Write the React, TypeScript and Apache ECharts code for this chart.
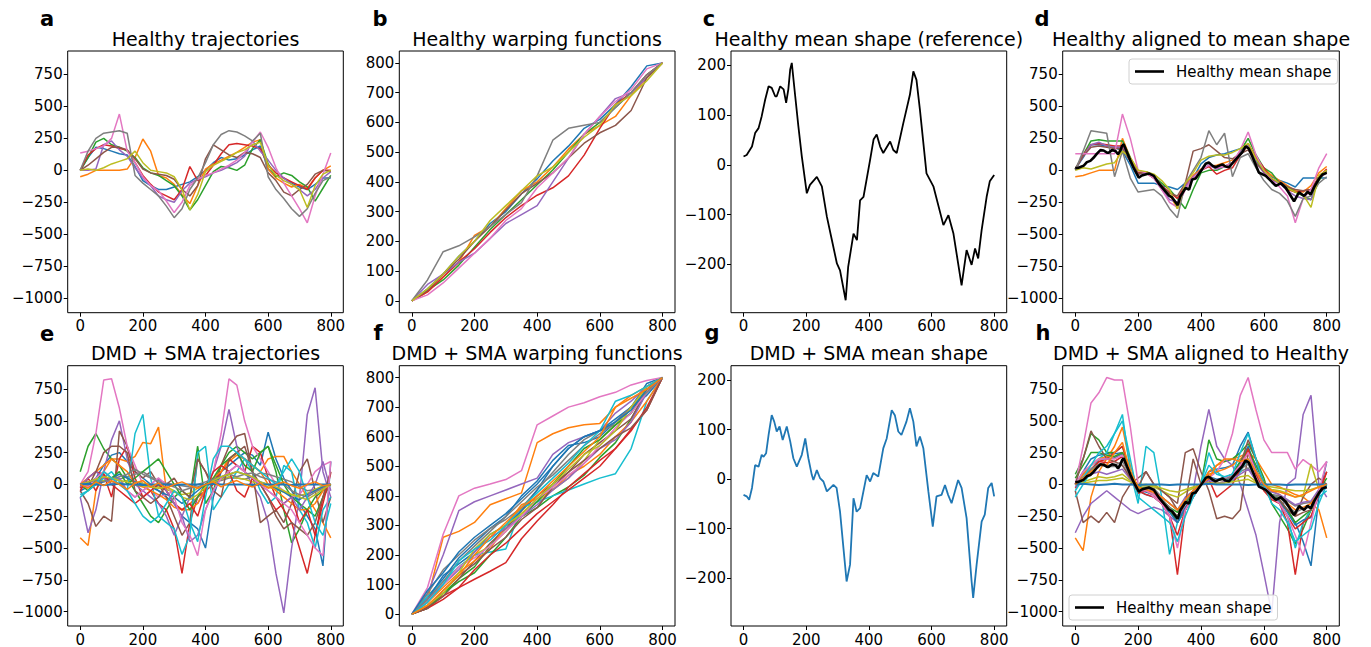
import React, { useEffect, useRef } from 'react';
import * as echarts from 'echarts';

const FONT = 'DejaVu Sans';
const TAB10 = ['#1f77b4', '#ff7f0e', '#2ca02c', '#d62728', '#9467bd', '#8c564b', '#e377c2', '#7f7f7f', '#bcbd22', '#17becf'];

// shared sample positions
const XS = [0, 25, 50, 75, 100, 125, 150, 175, 200, 225, 250, 275, 300, 325, 350, 375, 400, 425, 450, 475, 500, 525, 550, 575, 600, 625, 650, 675, 700, 725, 750, 775, 800];
const WX = [0, 50, 100, 150, 200, 250, 300, 350, 400, 450, 500, 550, 600, 650, 700, 750, 800];

// tick labels
const X_TICKS = [0, 200, 400, 600, 800];
const TRAJ_TICKS = [-1000, -750, -500, -250, 0, 250, 500, 750];
const WARP_TICKS = [0, 100, 200, 300, 400, 500, 600, 700, 800];
const MEAN_TICKS = [-200, -100, 0, 100, 200];

// titles
const TITLES = [
  'Healthy trajectories', 'Healthy warping functions', 'Healthy mean shape (reference)', 'Healthy aligned to mean shape',
  'DMD + SMA trajectories', 'DMD + SMA warping functions', 'DMD + SMA mean shape', 'DMD + SMA aligned to Healthy',
];
const LETTERS = ['a', 'b', 'c', 'd', 'e', 'f', 'g', 'h'];
const LEGEND_NAME = 'Healthy mean shape';

// (a) healthy trajectories
const HEALTHY_TRAJ = [
  [0, 100, 180, 170, 150, 130, 120, 30, -80, -120, -150, -150, -130, -110, -90, -50, 0, 60, 100, 80, 90, 120, 160, 190, 10, -40, -60, -100, -130, -150, -110, -60, -60],
  [-50, -30, 0, 0, 0, 0, 10, 100, 245, 150, -40, -60, -110, -190, -260, -120, 10, 50, 80, 110, 140, 180, 220, 240, 10, -60, -100, -130, -110, -140, -60, 0, 35],
  [0, 100, 220, 250, 200, 180, 150, 100, 20, -20, -40, -80, -120, -200, -310, -230, -120, -10, 30, 20, 0, 40, 170, 240, 50, -50, -20, -40, -90, -130, -240, -140, -40],
  [0, 120, 170, 200, 190, 170, 160, 60, -40, -110, -170, -200, -230, -150, 30, -80, -40, 40, 130, 200, 210, 200, 190, 170, 40, -20, -60, -90, -120, -150, -60, 0, 0],
  [0, 0, 10, 200, 230, 160, 110, 20, -60, -120, -200, -230, -250, -160, -100, -70, -50, -20, 0, 30, 60, 110, 230, 150, 80, 0, -60, -110, -150, -200, -150, -60, -10],
  [0, 40, 90, 140, 180, 180, 160, 90, 10, -20, -30, -40, -70, -150, -200, -120, 90, 200, 160, 120, 100, 140, 130, 100, -20, -80, -170, -200, -150, -110, -30, 0, -10],
  [135, 150, 170, 190, 250, 440, 150, 60, -50, -120, -160, -240, -330, -250, -120, -70, -40, -20, 10, 40, 80, 140, 220, 300, 180, 20, -100, -200, -300, -410, -200, -30, 135],
  [0, 150, 250, 290, 300, 310, 290, -40, -100, -150, -200, -280, -370, -300, -150, -60, 60, 200, 280, 310, 300, 270, 230, 290, -50, -150, -220, -300, -360, -300, -180, -80, -50],
  [0, 10, 0, 20, 50, 70, 90, 150, 60, 0, -10, -20, -50, -150, -310, -190, -10, 40, 70, 100, 140, 160, 200, 220, 40, -40, -80, -110, -150, -290, -120, -30, 0],
];

// (b) healthy warping functions
const HEALTHY_WARP = [
  [0, 40, 90, 150, 200, 260, 300, 360, 410, 470, 520, 580, 610, 660, 720, 790, 800],
  [0, 30, 80, 130, 220, 250, 310, 370, 400, 450, 510, 560, 590, 620, 690, 750, 800],
  [0, 35, 70, 120, 180, 240, 290, 340, 390, 440, 500, 560, 600, 650, 700, 760, 800],
  [0, 30, 80, 130, 175, 230, 280, 320, 355, 380, 420, 490, 580, 660, 700, 760, 800],
  [0, 55, 90, 130, 160, 210, 260, 290, 320, 400, 480, 560, 620, 680, 700, 750, 800],
  [0, 35, 90, 140, 200, 250, 305, 360, 395, 430, 480, 530, 565, 590, 640, 750, 800],
  [0, 20, 60, 110, 160, 210, 270, 310, 380, 430, 480, 560, 620, 670, 710, 780, 800],
  [0, 70, 165, 185, 215, 250, 290, 330, 420, 540, 580, 590, 600, 650, 700, 760, 800],
  [0, 40, 90, 150, 200, 270, 320, 370, 420, 450, 500, 550, 590, 660, 690, 740, 800],
];

// (c) healthy mean shape
const MEAN_X = [0, 10, 27, 37, 48, 58, 69, 80, 90, 101, 106, 117, 128, 136, 143, 149, 154, 165, 175, 186, 202, 212, 234, 250, 266, 282, 298, 308, 326, 334, 351, 362, 372, 383, 404, 415, 425, 436, 446, 468, 478, 489, 510, 531, 542, 552, 563, 584, 606, 638, 654, 670, 696, 712, 728, 739, 749, 760, 776, 786, 800];
const MEAN_Y = [17, 20, 37, 64, 74, 98, 131, 158, 155, 138, 138, 158, 152, 125, 152, 192, 205, 138, 78, 17, -57, -40, -24, -43, -104, -151, -198, -212, -272, -205, -138, -151, -71, -64, 10, 51, 61, 37, 24, 47, 30, 24, 84, 141, 188, 171, 111, -17, -43, -121, -101, -138, -242, -171, -201, -168, -188, -131, -64, -33, -20];

// (d) healthy aligned to mean shape
const HEALTHY_ALIGNED = [
  [10, 100, 200, 200, 190, 180, 150, 40, -100, -100, -100, -120, -130, -150, -100, -60, 50, 100, 120, 130, 150, 170, 200, 80, -10, -50, -80, -100, -130, -60, -60, -60, -60],
  [-50, -40, -20, 0, 0, 0, 250, 100, 0, -20, -60, -130, -190, -300, -120, -40, 10, 30, 40, 60, 80, 140, 210, 100, 10, -40, -80, -120, -160, -170, -120, -20, 30],
  [10, 120, 230, 240, 230, 230, 230, 100, -20, -10, -50, -100, -150, -220, -300, -150, -20, 0, 0, 30, 60, 150, 250, 120, 20, -20, -100, -130, -170, -200, -230, -80, 0],
  [10, 120, 200, 210, 200, 190, 190, 80, -20, -20, -60, -120, -170, -220, -120, -60, 0, 30, -30, 0, 20, 120, 200, 100, 20, -70, -100, -150, -170, -160, -150, -50, 10],
  [10, 110, 200, 220, 190, 180, 180, 70, -30, -20, -60, -150, -230, -250, -130, -50, 0, 40, 10, 30, 60, 140, 200, 60, -20, -80, -100, -160, -200, -220, -230, -60, -20],
  [10, 110, 180, 190, 180, 170, 170, 70, -30, -10, -40, -120, -180, -200, -100, 150, 170, 200, 150, 100, 90, 130, 160, 60, -10, -70, -90, -130, -150, -160, -150, -60, -10],
  [130, 130, 130, 130, 130, 130, 440, 250, 0, -20, -60, -150, -250, -290, -150, -60, 0, 40, 20, 30, 60, 160, 300, 120, 0, -80, -130, -200, -410, -220, -150, 20, 130],
  [0, 150, 310, 300, 290, -50, 150, -60, -170, -160, -150, -200, -300, -370, -100, 0, 100, 310, 200, 290, -50, 100, 130, 20, -80, -150, -180, -240, -360, -220, -200, -100, -50],
  [0, 20, 10, 30, 50, 60, 150, 100, 0, -10, -30, -80, -150, -300, -100, -20, 80, 110, 120, 120, 140, 170, 210, 90, 0, -60, -100, -140, -170, -190, -290, -40, 0],
];

// (e) DMD + SMA trajectories
const DMD_TRAJ = [
  [-20, 0, 50, 150, 230, 250, 180, 100, 50, 0, -50, -100, -150, -250, -300, -350, -500, -100, 100, 150, 200, 250, 230, 150, 410, 200, 50, -50, -150, -250, -350, -640, 180],
  [-420, -480, -50, 100, 200, 200, 180, 220, 330, 320, 450, -50, -150, -200, -150, -100, 0, 50, 100, 180, 230, 200, 150, 100, 200, 220, 220, 100, 0, -100, -200, -300, -420],
  [100, 300, 400, 280, 200, 150, 50, -50, -150, -250, -300, -200, -100, -50, -100, 300, -150, -50, 150, 250, 300, 250, 200, 250, 300, 100, -200, -460, -350, -200, -100, -50, 0],
  [-30, 50, -50, 80, -100, 200, 300, 50, -100, -50, -150, -200, -350, -700, -300, -100, -50, 0, 100, 200, 150, 100, 300, 250, 50, -100, -200, -300, -500, -700, -400, -100, 100],
  [-100, -380, -200, 100, 350, 500, 200, 0, -50, -100, -150, -250, -400, -250, -100, -150, -50, 100, 300, 590, 300, 100, 0, -100, -300, -700, -1010, -500, -100, 550, 760, 100, -100],
  [-50, -150, -330, -250, -290, 420, 300, 100, 50, 100, 0, -100, -250, -400, -300, 200, 100, 0, 150, 300, 380, 400, 100, -300, -250, -200, -300, -150, 100, 200, -50, -300, -100],
  [0, 100, 400, 820, 830, 600, 300, 150, 0, -50, -100, -80, -50, -100, -200, -100, 0, 100, 400, 830, 780, 500, 300, 200, 100, 0, -50, -100, -80, 0, 100, 150, 180],
  [0, 10, 20, 30, 50, 40, 60, 80, 100, 60, 30, 10, 0, -10, -20, -20, 0, 20, 30, 50, 50, 40, 60, 90, 80, 60, 40, 20, -20, -50, -40, -20, 0],
  [0, -10, 20, 30, 20, 10, 30, 20, 10, 0, -20, -40, -60, -80, -70, -30, 0, 20, 40, 60, 50, 40, 20, 0, -20, -40, -60, -80, -90, -70, -40, -10, 0],
  [-80, -50, 0, 50, 100, 20, -50, 400, 550, 50, -250, -300, -350, -550, -400, 250, 300, -200, -100, 0, 100, 200, 100, -50, -150, -100, 150, 100, -200, -300, -500, -200, -100],
  [-50, -20, 0, 20, 50, 80, 50, 20, 0, -20, -50, -80, -100, -150, -100, -50, 0, 30, 50, 80, 100, 80, 50, 20, 0, -30, -60, -100, -120, -80, -50, -20, 0],
  [0, 50, 100, 150, 200, 150, 100, 0, -20, -50, -80, -120, -180, -200, -200, -150, -30, 50, 100, 200, 250, 200, 150, 100, 0, -50, -100, -150, -200, -200, -150, -50, 0],
  [0, -50, 30, 100, 50, 100, 0, 50, 100, 150, 200, 100, 0, -100, -200, -100, 0, 50, 150, 200, 250, 150, 100, 250, 300, 150, 0, -100, -150, -200, -250, -100, 0],
  [-50, 50, 100, 80, 0, -50, -100, -150, -100, -50, 0, -50, -150, -200, -150, -250, -50, 100, 150, 100, -50, -100, 50, 0, -100, -200, -150, -100, -300, -200, -400, -150, 90],
  [-20, 50, 100, 50, 0, 50, -50, -100, -50, 0, 50, -50, -150, -250, -450, -400, -200, -50, 50, 100, 150, 100, 50, 0, -50, -100, -150, -100, -200, -100, 0, 180, -50],
  [0, -20, 100, 250, 300, 300, 250, -50, -100, -150, -100, 0, 50, -50, -100, 200, 100, -50, -100, 200, 250, 300, 100, 0, -100, -250, -350, -300, -350, -400, -300, -100, 100],
  [0, -20, 50, 100, 50, 0, -50, -100, -50, 0, 50, 0, -100, -300, -400, -560, -200, -50, 50, 100, 150, 100, 50, 0, -50, -100, -150, -200, -300, -400, -500, -560, 180],
  [0, 20, 30, 20, 40, 60, 80, 120, 80, 50, 20, 0, -20, -50, -30, 0, 20, 40, 60, 80, 60, 80, 90, 60, 40, 20, 0, -50, -80, -100, -60, -30, 0],
  [0, 20, 40, 60, 50, 30, 20, 0, -10, -20, -30, -20, -50, -100, -120, -80, -20, 30, 60, 80, 100, 80, 60, 20, 0, -20, -50, -80, -100, -120, -80, -40, 0],
  [-100, -50, 0, 100, 50, 0, -50, -150, -250, -300, -250, -150, -50, -100, -300, -450, -100, 200, 300, 300, 250, 200, 150, 100, 50, 0, 100, 200, 100, -100, -300, -400, -150],
  [0, 5, 0, -5, 0, 5, 0, 0, -5, 0, 0, 0, -5, 0, 0, 0, 0, 5, 0, 0, 0, 0, -5, 0, 0, 0, 0, -5, 0, 0, 0, 0, 0],
  [0, -30, 20, -10, 30, 0, -40, 10, 30, -20, 10, -30, 0, 20, -10, -30, 0, 20, -20, 10, 30, 0, -20, 10, -30, 0, 20, -10, -30, 0, 20, -10, 0],
];

// (f) DMD + SMA warping functions
const DMD_WARP = [
  [0, 60, 120, 190, 240, 290, 330, 400, 450, 520, 570, 580, 600, 650, 700, 780, 800],
  [0, 50, 260, 280, 310, 370, 390, 410, 580, 610, 630, 640, 645, 700, 740, 770, 800],
  [0, 30, 70, 120, 160, 230, 300, 330, 360, 400, 430, 470, 530, 580, 660, 750, 800],
  [0, 25, 62, 90, 118, 145, 174, 255, 315, 370, 430, 475, 520, 560, 625, 690, 800],
  [0, 70, 200, 350, 380, 400, 420, 440, 460, 540, 580, 600, 620, 680, 720, 770, 800],
  [0, 20, 60, 120, 180, 240, 290, 350, 400, 440, 480, 540, 580, 620, 660, 760, 800],
  [0, 90, 270, 400, 426, 440, 455, 485, 640, 670, 700, 715, 735, 750, 775, 790, 800],
  [0, 70, 150, 200, 250, 290, 320, 360, 420, 480, 540, 590, 620, 640, 680, 760, 800],
  [0, 40, 100, 160, 200, 230, 280, 340, 380, 420, 460, 520, 590, 640, 700, 760, 800],
  [0, 60, 110, 160, 200, 210, 220, 360, 380, 400, 420, 440, 460, 475, 560, 720, 800],
  [0, 50, 130, 170, 210, 270, 300, 350, 420, 500, 560, 600, 620, 660, 700, 740, 800],
  [0, 40, 90, 140, 180, 220, 300, 370, 390, 420, 470, 500, 540, 600, 650, 720, 800],
  [0, 20, 70, 110, 140, 200, 260, 330, 380, 440, 500, 560, 590, 640, 680, 760, 800],
  [0, 20, 50, 90, 150, 200, 240, 290, 340, 380, 420, 460, 500, 560, 620, 700, 800],
  [0, 50, 100, 150, 210, 260, 290, 330, 370, 420, 460, 510, 560, 590, 650, 750, 800],
  [0, 20, 80, 130, 170, 220, 260, 320, 360, 430, 480, 520, 560, 600, 630, 690, 800],
  [0, 40, 100, 160, 190, 230, 280, 330, 390, 430, 470, 510, 570, 630, 680, 750, 800],
  [0, 50, 110, 180, 230, 280, 330, 380, 430, 470, 520, 570, 610, 650, 700, 750, 800],
  [0, 30, 70, 140, 220, 270, 300, 340, 390, 440, 490, 540, 570, 620, 700, 770, 800],
  [0, 40, 100, 180, 220, 250, 300, 360, 410, 460, 510, 570, 620, 720, 740, 770, 800],
  [0, 80, 140, 210, 260, 300, 340, 390, 440, 500, 560, 600, 620, 650, 690, 760, 800],
  [0, 30, 80, 130, 200, 260, 310, 360, 400, 450, 500, 550, 600, 700, 730, 760, 800],
];

// (g) DMD + SMA mean shape
const DMD_MEAN_X = [0, 10, 18, 27, 37, 48, 58, 64, 72, 80, 90, 98, 106, 115, 125, 138, 149, 159, 170, 186, 197, 207, 218, 223, 234, 244, 255, 266, 287, 297, 308, 319, 329, 340, 351, 361, 372, 393, 404, 414, 430, 446, 457, 473, 483, 494, 504, 520, 531, 542, 552, 563, 574, 590, 604, 616, 632, 643, 653, 664, 685, 696, 712, 728, 733, 744, 760, 770, 781, 792, 800];
const DMD_MEAN_Y = [-32, -35, -42, -18, 28, 25, 49, 45, 52, 89, 129, 116, 96, 106, 79, 106, 76, 42, 25, 49, 82, 42, 8, -2, 18, 2, -5, -25, -12, -18, -66, -140, -207, -173, -39, -66, -59, 8, -5, 12, 5, 62, 82, 139, 129, 96, 89, 116, 143, 116, 66, 86, 62, -25, -96, -35, -32, -12, -32, -49, -2, -18, -79, -207, -240, -173, -86, -72, -18, -8, -35];

// (h) DMD + SMA aligned to healthy
const DMD_ALIGNED = [
  [0, 100, 200, 230, 240, 240, 250, 100, -50, -80, -100, -150, -200, -300, -200, -100, 0, 100, 120, 130, 150, 300, 410, 200, 0, -100, -150, -200, -300, -450, -640, -100, 180],
  [-420, -520, -100, 100, 200, 300, 450, 150, -50, -50, -50, -100, -150, -200, -150, -50, 0, 100, 150, 180, 200, 220, 250, 200, 100, 0, -20, -50, -80, -100, -150, -200, -420],
  [80, 200, 400, 350, 250, 250, 300, 100, -30, -50, -80, -150, -200, -300, -200, -100, 0, 350, 200, 180, 200, 250, 320, 200, 50, -150, -250, -350, -470, -350, -200, -50, 0],
  [-30, 50, 100, 180, 200, 250, 300, 100, -50, -80, -100, -150, -250, -710, -200, -100, 0, 50, 30, 50, 80, 150, 250, 100, 0, -100, -150, -300, -710, -300, -200, -50, 100],
  [-380, -250, -150, -100, -50, -100, -150, -200, -230, -200, -180, -200, -250, -300, -150, -50, 300, 590, 300, 200, 150, 0, -200, -400, -700, -1010, -300, 0, 50, 550, 700, 0, -100],
  [-50, -300, -250, -300, -220, -300, -100, 0, 50, 100, 0, -50, -100, -150, 250, 280, 100, -50, -270, -250, -270, -200, 250, 100, 0, -100, -150, -200, -250, -100, 0, 50, 0],
  [0, 300, 640, 720, 840, 820, 820, 455, 0, -50, -100, -150, -200, -250, -150, -50, 0, 50, 100, 200, 400, 700, 840, 585, 350, 250, 250, 250, 120, 195, 150, 100, 180],
  [0, 50, 100, 150, 140, 140, 150, 60, -30, -20, -30, -100, -150, -200, -120, -60, 0, 50, 30, 40, 50, 100, 130, 30, -30, -80, -90, -130, -170, -150, -140, -50, -10],
  [0, 20, 40, 60, 50, 60, 80, 30, -10, -10, -20, -50, -80, -100, -60, -30, 0, 20, 10, 20, 30, 60, 70, 20, -20, -40, -50, -70, -100, -90, 160, -40, 0],
  [-100, 0, 100, 200, 250, 400, 550, 100, -150, 300, 250, -100, -550, -300, -200, -100, 0, 250, 100, 50, 20, 100, 200, 100, 0, -100, -150, -250, -500, -300, -200, -100, -50],
  [0, 80, 150, 200, 200, 210, 240, 90, -50, -60, -80, -150, -220, -300, -180, -80, 0, 60, 40, 50, 80, 180, 300, 120, -20, -100, -130, -220, -320, -280, -260, -80, 0],
  [0, 80, 150, 200, 220, 220, 250, 100, -30, -50, -80, -150, -200, -250, -150, -50, 0, 80, 100, 120, 150, 200, 250, 100, 20, -50, -80, -150, -200, -180, -150, -50, 0],
  [50, 150, 250, 250, 230, 220, 250, 80, -20, -30, -50, -120, -180, -220, -150, -60, 0, 50, 30, 50, 80, 180, 280, 150, 20, -80, -120, -200, -300, -250, -200, -50, 50],
  [0, 50, 120, 180, 170, 180, 220, 60, -70, -50, -60, -150, -250, -400, -200, -80, 0, 40, -100, -50, 0, 120, 280, 80, -50, -120, -150, -250, -350, -300, -250, -80, 100],
  [-20, 50, 80, 100, 80, 100, 120, 40, -50, -40, -50, -100, -150, -200, -100, -50, 0, 30, 10, 20, 40, 80, 120, 30, -30, -60, -80, -120, -160, -140, -130, -40, -30],
  [0, 200, 420, 300, 200, 180, 150, 50, -20, 100, 0, -50, -100, -200, -150, 200, 0, 50, 30, 40, 60, 150, 350, 200, 0, -100, -120, -200, -250, -220, -200, -50, 0],
  [0, 100, 150, 200, 200, 200, 230, 80, -50, -50, -80, -150, -250, -500, -200, -100, 0, 50, 30, 50, 80, 150, 250, 100, 0, -100, -150, -250, -400, -560, -300, -50, 180],
  [0, 60, 120, 160, 150, 150, 180, 70, -40, -30, -40, -120, -180, -250, -130, -60, 0, 60, 30, 40, 60, 120, 160, 40, -40, -90, -100, -170, -220, -190, -180, -60, -20],
  [0, 10, 20, 30, 30, 40, 50, 20, 0, 0, -10, -30, -50, -60, -40, -20, 0, 10, 10, 10, 20, 30, 40, 10, -10, -20, -30, -40, -50, -50, -40, -20, 0],
  [-50, 50, 150, 250, 300, 400, 500, 200, -100, -150, -200, -250, -300, -450, -250, -100, 0, 150, 80, 60, 80, 250, 400, 200, 0, -150, -200, -300, -450, -400, -350, -150, 0],
  [0, 5, 0, -5, 0, 5, 0, 0, -5, 0, 0, 0, -5, 0, 0, 0, 0, 5, 0, 0, 0, 0, -5, 0, 0, 0, 0, -5, 0, 0, 0, 0, 0],
  [0, 50, 100, 150, 150, 250, 330, 100, -20, -40, -60, -100, -150, -200, -120, -50, 0, 50, 150, 200, 200, 180, 200, 100, 0, -50, -60, -80, -100, -80, -50, -20, 0],
];

// layout (pixels)
const BOXES = [
  { left: 67.7, top: 51, width: 275.6, height: 261.7 },
  { left: 399.3, top: 51, width: 275.7, height: 261.7 },
  { left: 731, top: 51, width: 275.7, height: 261.7 },
  { left: 1062.7, top: 51, width: 276.6, height: 261.7 },
  { left: 67.7, top: 365.7, width: 275.6, height: 261 },
  { left: 399.3, top: 365.7, width: 275.7, height: 261 },
  { left: 731, top: 365.7, width: 275.7, height: 261 },
  { left: 1062.7, top: 365.7, width: 276.6, height: 261 },
];
const TRAJ_RANGE = [-1113, 933];
const WARP_RANGE = [-40, 840];
const MEAN_RANGE = [-297, 229];
const Y_SETUP = [
  { r: TRAJ_RANGE, t: TRAJ_TICKS }, { r: WARP_RANGE, t: WARP_TICKS }, { r: MEAN_RANGE, t: MEAN_TICKS }, { r: TRAJ_RANGE, t: TRAJ_TICKS },
  { r: TRAJ_RANGE, t: TRAJ_TICKS }, { r: WARP_RANGE, t: WARP_TICKS }, { r: MEAN_RANGE, t: MEAN_TICKS }, { r: TRAJ_RANGE, t: TRAJ_TICKS },
];

function fmt(v: number): string {
  return v < 0 ? '\u2212' + Math.abs(v) : String(v);
}

function mk(i: number, xs: number[], ys: number[], color: string, width = 1.5, name?: string, z = 2) {
  return {
    type: 'line',
    name,
    xAxisIndex: i,
    yAxisIndex: i,
    data: xs.map((x, k) => [x, ys[k]]),
    symbol: 'none',
    showSymbol: false,
    lineStyle: { color, width },
    itemStyle: { color },
    silent: true,
    z,
    emphasis: { disabled: true },
  };
}

function buildOption() {
  const grid = BOXES.map((b) => ({ ...b, show: true, borderColor: '#000', borderWidth: 1, backgroundColor: 'transparent' }));
  const tickStyle = { color: '#000', width: 1 };
  const labelBase = { color: '#000', fontSize: 15, fontFamily: FONT, formatter: fmt };
  const xAxis = BOXES.map((_, i) => ({
    gridIndex: i, type: 'value', min: -40, max: 840, position: 'bottom',
    axisLine: { show: false, onZero: false }, splitLine: { show: false },
    axisTick: { show: true, length: 4, customValues: X_TICKS, lineStyle: tickStyle },
    axisLabel: { ...labelBase, customValues: X_TICKS, margin: 6 },
  }));
  const yAxis = BOXES.map((_, i) => ({
    gridIndex: i, type: 'value', min: Y_SETUP[i].r[0], max: Y_SETUP[i].r[1], position: 'left',
    axisLine: { show: false, onZero: false }, splitLine: { show: false },
    axisTick: { show: true, length: 4, customValues: Y_SETUP[i].t, lineStyle: tickStyle },
    axisLabel: { ...labelBase, customValues: Y_SETUP[i].t, margin: 5 },
  }));

  const series: any[] = [];
  HEALTHY_TRAJ.forEach((ys, k) => series.push(mk(0, XS, ys, TAB10[k % 10])));
  HEALTHY_WARP.forEach((ys, k) => series.push(mk(1, WX, ys, TAB10[k % 10])));
  series.push(mk(2, MEAN_X, MEAN_Y, '#000', 1.8));
  HEALTHY_ALIGNED.forEach((ys, k) => series.push(mk(3, XS, ys, TAB10[k % 10])));
  series.push(mk(3, MEAN_X, MEAN_Y, '#000', 2.6, LEGEND_NAME, 5));
  DMD_TRAJ.forEach((ys, k) => series.push(mk(4, XS, ys, TAB10[k % 10], k === 20 ? 2 : 1.5)));
  DMD_WARP.forEach((ys, k) => series.push(mk(5, WX, ys, TAB10[k % 10])));
  series.push(mk(6, DMD_MEAN_X, DMD_MEAN_Y, TAB10[0], 1.8));
  DMD_ALIGNED.forEach((ys, k) => series.push(mk(7, XS, ys, TAB10[k % 10], k === 20 ? 2 : 1.5)));
  series.push(mk(7, MEAN_X, MEAN_Y, '#000', 2.6, LEGEND_NAME, 5));

  const graphics: any[] = [];
  BOXES.forEach((b, i) => {
    const row2 = i >= 4;
    graphics.push({
      type: 'text', x: b.left + b.width / 2, y: row2 ? 353 : 38.8, silent: true,
      style: { text: TITLES[i], fontSize: 19, fontFamily: FONT, fill: '#000', align: 'center', verticalAlign: 'middle' },
    });
  });
  const LETTER_POS = [[47, 19], [380, 19], [709, 19], [1042, 19], [47, 334], [378, 333], [712, 333], [1043, 333]];
  LETTERS.forEach((l, i) => {
    graphics.push({
      type: 'text', x: LETTER_POS[i][0], y: LETTER_POS[i][1], silent: true,
      style: { text: l, fontSize: 21, fontWeight: 'bold', fontFamily: FONT, fill: '#000', align: 'center', verticalAlign: 'middle' },
    });
  });

  const legendBase = {
    data: [{ name: LEGEND_NAME, icon: 'rect' }], orient: 'horizontal', selectedMode: false,
    padding: [5, 6, 5, 6], itemWidth: 29, itemHeight: 2.6,
    itemStyle: { color: '#000', borderWidth: 0 },
    borderColor: '#d0d0d0', borderWidth: 1, borderRadius: 3,
    backgroundColor: 'rgba(255,255,255,0.85)',
    textStyle: { fontSize: 15, fontFamily: FONT, color: '#000', padding: [0, 0, 0, 7] },
    z: 10,
  };

  return {
    animation: false,
    backgroundColor: '#ffffff',
    textStyle: { fontFamily: FONT },
    grid, xAxis, yAxis, series,
    legend: [
      { ...legendBase, left: 1129, top: 59 },
      { ...legendBase, left: 1069, top: 595 },
    ],
    graphic: graphics,
  };
}

export default function App() {
  const ref = useRef<HTMLDivElement>(null);
  useEffect(() => {
    if (!ref.current) return;
    const chart = echarts.init(ref.current, undefined, { renderer: 'svg' });
    chart.setOption(buildOption() as any);
    return () => chart.dispose();
  }, []);
  return (
    <div
      ref={ref}
      style={{ position: 'fixed', left: 0, top: 0, width: 1371, height: 647, background: '#fff' }}
    />
  );
}
